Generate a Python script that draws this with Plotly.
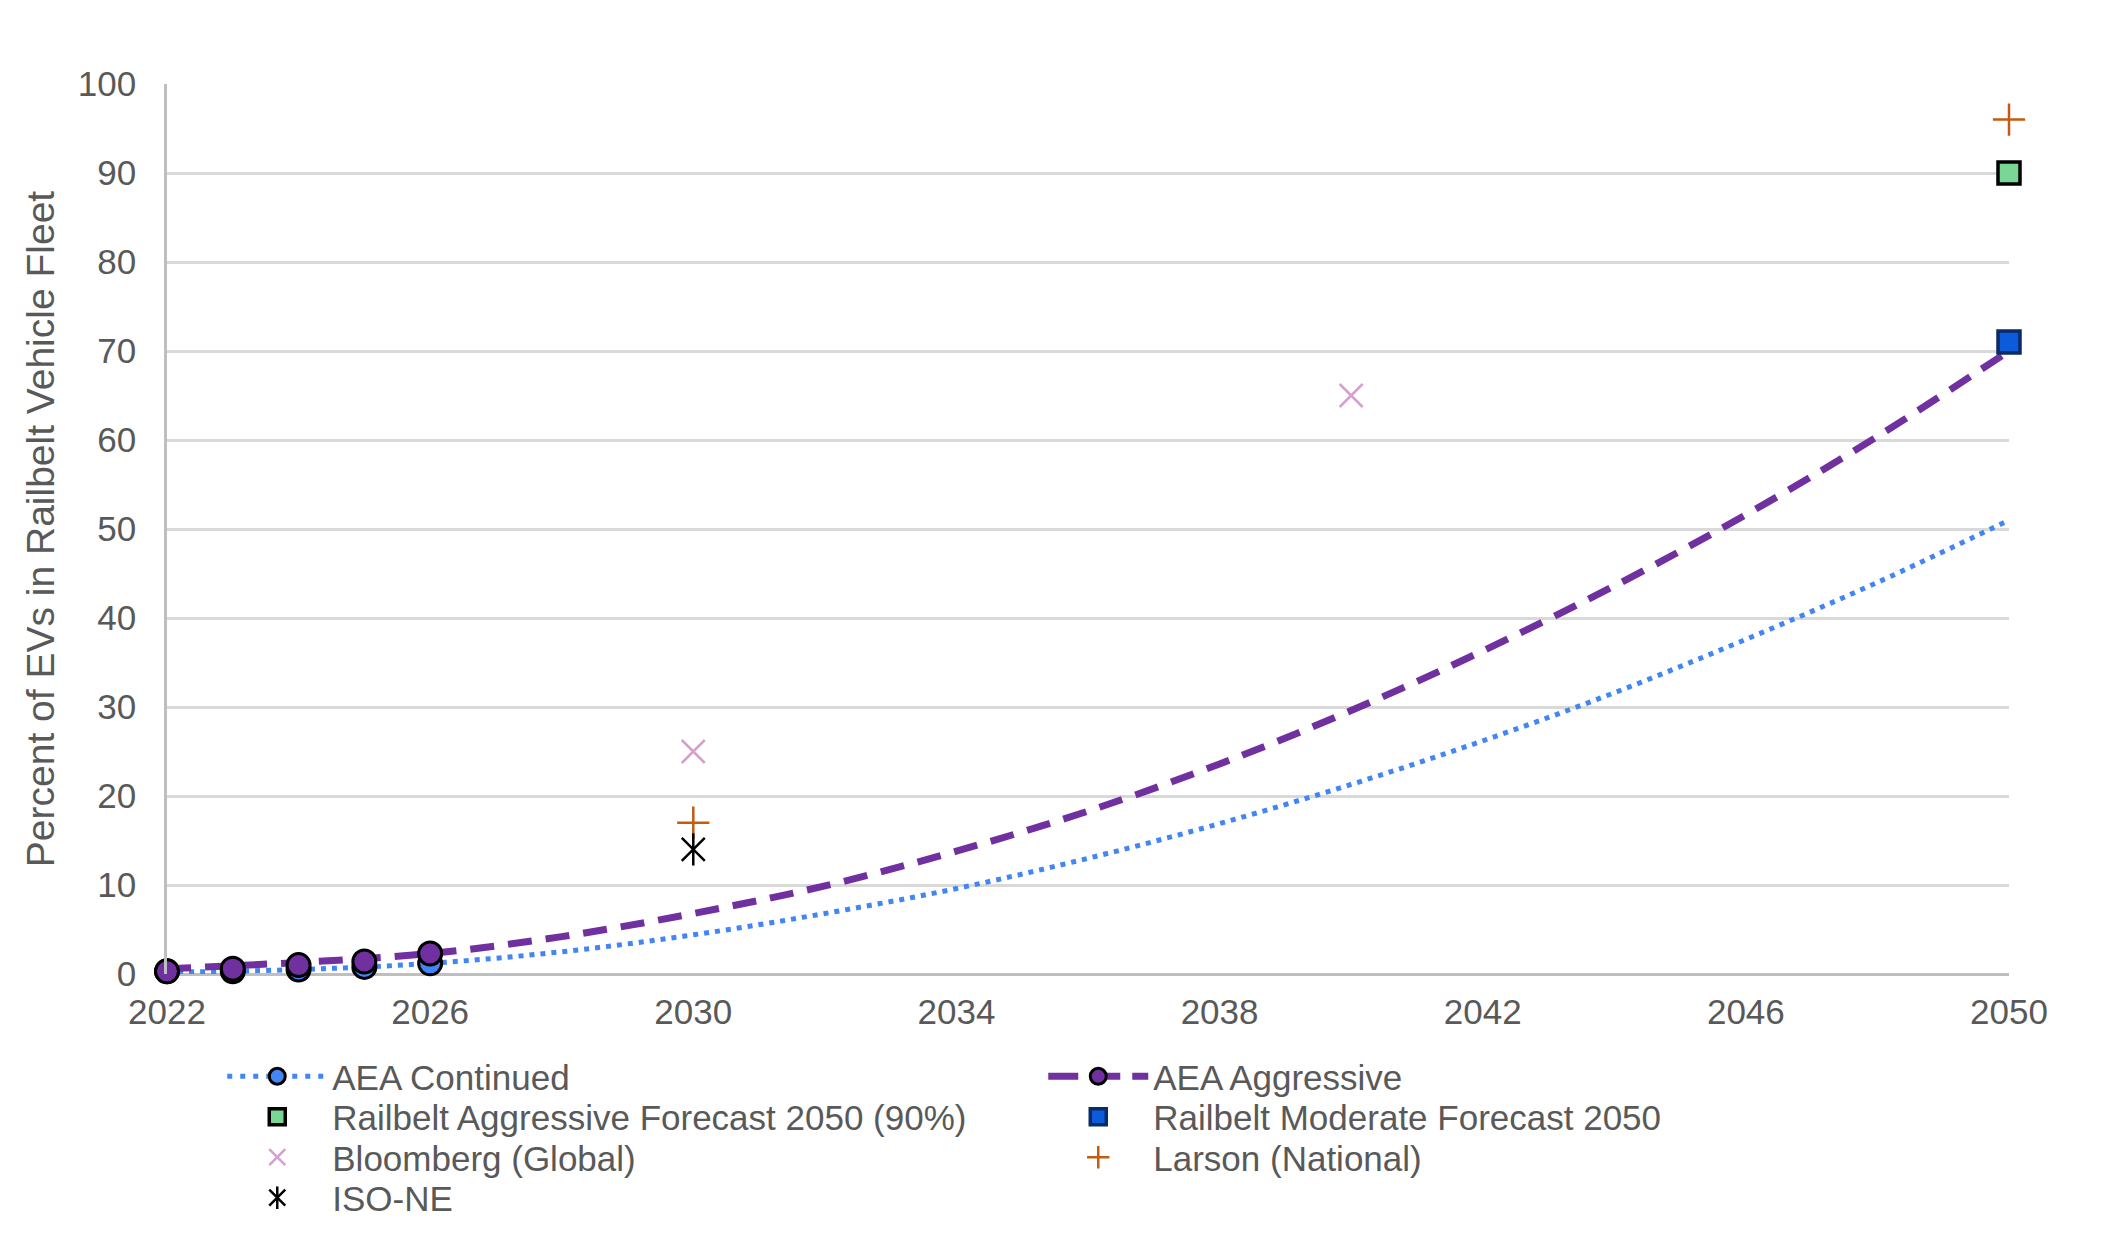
import plotly.graph_objects as go

# ---------------- data ----------------
marker_years = [2022, 2023, 2024, 2025, 2026]
continued_markers = [0.3, 0.3, 0.5, 0.8, 1.2]
aggressive_markers = [0.3, 0.6, 1.0, 1.4, 2.3]

curve_years = [2022, 2024, 2026, 2028, 2030, 2032, 2034, 2036, 2038, 2040, 2042, 2044, 2046, 2048, 2050]
continued_curve = [0.2, 0.5, 1.2, 2.5, 4.4, 6.8, 9.6, 13.0, 16.9, 21.3, 26.2, 31.6, 37.6, 44.0, 51.0]
aggressive_curve = [0.6, 1.3, 2.3, 4.2, 6.8, 9.9, 13.8, 18.3, 23.6, 29.6, 36.3, 43.6, 51.6, 60.4, 70.0]

railbelt_agg_x = [2050]
railbelt_agg_y = [90]
railbelt_mod_x = [2050]
railbelt_mod_y = [71]
bloomberg_x = [2030, 2040]
bloomberg_y = [25, 65]
larson_x = [2030, 2050]
larson_y = [17, 96]
isone_x = [2030]
isone_y = [14]

x_ticks = [2022, 2026, 2030, 2034, 2038, 2042, 2046, 2050]
y_ticks = [0, 10, 20, 30, 40, 50, 60, 70, 80, 90, 100]

FONT = "Liberation Sans, Arial, sans-serif"
TXT = "#595959"
BLUE = "#4285f4"
PURPLE = "#7030a0"


def gapped(xs, ys):
    gx, gy = [], []
    for a, b in zip(xs, ys):
        gx += [a, None]
        gy += [b, None]
    return gx, gy


fig = go.Figure()

# AEA Continued curve
fig.add_trace(go.Scatter(x=curve_years, y=continued_curve, mode="lines",
                         line=dict(color=BLUE, width=5, dash="5px,6px", shape="spline"),
                         showlegend=False, hoverinfo="skip"))
gx, gy = gapped(marker_years, continued_markers)
fig.add_trace(go.Scatter(x=gx, y=gy, mode="lines+markers", name="AEA Continued",
                         legend="legend", connectgaps=False, cliponaxis=False,
                         line=dict(color=BLUE, width=5, dash="5px,8px"),
                         marker=dict(symbol="circle", size=23, color=BLUE,
                                     line=dict(color="black", width=3))))

# AEA Aggressive curve
fig.add_trace(go.Scatter(x=curve_years, y=aggressive_curve, mode="lines",
                         line=dict(color=PURPLE, width=7, dash="24px,14px", shape="spline"),
                         showlegend=False, hoverinfo="skip"))
gx, gy = gapped(marker_years, aggressive_markers)
fig.add_trace(go.Scatter(x=gx, y=gy, mode="lines+markers", name="AEA Aggressive",
                         legend="legend", connectgaps=False, cliponaxis=False,
                         line=dict(color=PURPLE, width=7, dash="30px,12px"),
                         marker=dict(symbol="circle", size=23, color=PURPLE,
                                     line=dict(color="black", width=3))))

fig.add_trace(go.Scatter(x=railbelt_agg_x, y=railbelt_agg_y, mode="markers",
                         name="Railbelt Aggressive Forecast 2050 (90%)", legend="legend2",
                         cliponaxis=False,
                         marker=dict(symbol="square", size=22, color="#7ad694",
                                     line=dict(color="black", width=3.5))))
fig.add_trace(go.Scatter(x=railbelt_mod_x, y=railbelt_mod_y, mode="markers",
                         name="Railbelt Moderate Forecast 2050", legend="legend2",
                         cliponaxis=False,
                         marker=dict(symbol="square", size=22, color="#0b5bdb",
                                     line=dict(color="#0c2a66", width=3.5))))
fig.add_trace(go.Scatter(x=bloomberg_x, y=bloomberg_y, mode="markers",
                         name="Bloomberg (Global)", legend="legend3", cliponaxis=False,
                         marker=dict(symbol="x-thin", size=23, color="#d4a0cf",
                                     line=dict(color="#d4a0cf", width=2.5))))
fig.add_trace(go.Scatter(x=larson_x, y=larson_y, mode="markers",
                         name="Larson (National)", legend="legend3", cliponaxis=False,
                         marker=dict(symbol="cross-thin", size=23, color="#c55a11",
                                     line=dict(color="#c55a11", width=2.5))))
fig.add_trace(go.Scatter(x=isone_x, y=isone_y, mode="markers",
                         name="ISO-NE", legend="legend4", cliponaxis=False,
                         marker=dict(symbol="x-thin", size=23, color="black",
                                     line=dict(color="black", width=2.5))))
# vertical stroke of the ISO-NE asterisk (also overlaid on its legend symbol)
fig.add_trace(go.Scatter(x=isone_x, y=isone_y, mode="markers",
                         name=" ", legend="legend5", hoverinfo="skip", cliponaxis=False,
                         marker=dict(symbol="line-ns", size=23, color="black",
                                     line=dict(color="black", width=2.5))))

LEG_X = 0.03
ROW0 = -0.082
ROW_STEP = 40.5 / 890.0


def leg(row):
    return dict(orientation="h", x=LEG_X, xanchor="left", y=ROW0 - row * ROW_STEP, yanchor="top",
                entrywidth=706, entrywidthmode="pixels", itemwidth=100,
                font=dict(family=FONT, size=35, color=TXT),
                bgcolor="rgba(0,0,0,0)", traceorder="normal")


fig.update_layout(
    width=2112, height=1243,
    margin=dict(l=159, r=111, t=76, b=277, autoexpand=False),
    paper_bgcolor="white", plot_bgcolor="white",
    font=dict(family=FONT, size=35, color=TXT),
    showlegend=True,
    legend=leg(0), legend2=leg(1), legend3=leg(2), legend4=leg(3), legend5=leg(3),
    xaxis=dict(range=[2022, 2050], tickvals=x_ticks, ticktext=[str(v) for v in x_ticks],
               showgrid=False, zeroline=False, showline=False,
               ticks="", ticklabelstandoff=14,
               tickfont=dict(family=FONT, size=35, color=TXT)),
    yaxis=dict(range=[0, 100], tickvals=y_ticks, showgrid=True, gridcolor="#d9d9d9", gridwidth=2.5,
               zeroline=True, zerolinecolor="#bfbfbf", zerolinewidth=3,
               showline=True, linecolor="#bfbfbf", linewidth=2.5,
               ticks="", ticklabelstandoff=21,
               tickfont=dict(family=FONT, size=35, color=TXT),
               title=dict(text="Percent of EVs in Railbelt Vehicle Fleet",
                          font=dict(family=FONT, size=39, color=TXT), standoff=12)),
)

fig.write_html("out.html")
